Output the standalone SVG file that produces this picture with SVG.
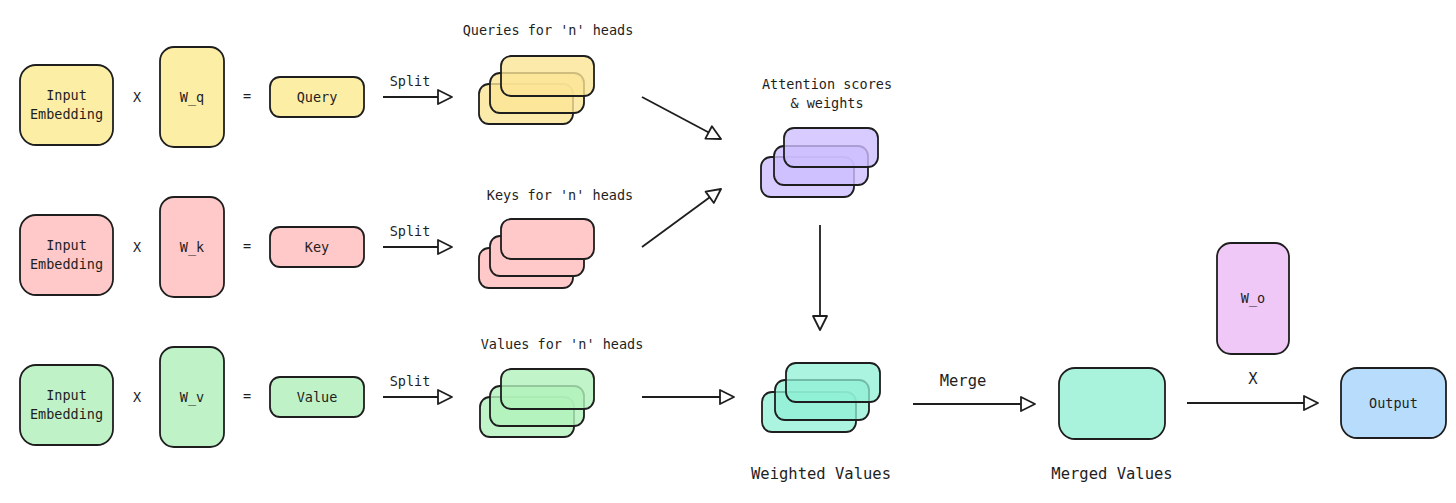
<svg xmlns="http://www.w3.org/2000/svg" width="1456" height="503" viewBox="0 0 1456 503">
<style>
  .box { stroke: #1e1e1e; stroke-width: 1.8; }
  .t { font-family: "DejaVu Sans Mono", "Liberation Mono", monospace; font-size: 13.5px; fill: #1e1e1e; text-anchor: middle; }
  .big { font-size: 15.5px; }
  .ln { stroke: #1e1e1e; stroke-width: 1.8; fill: none; }
  .y { fill: #fdeea6; }
  .ys { fill: #fbe596; fill-opacity: 0.8; }
  .p { fill: #ffc9c9; }
  .g { fill: #c0f2c8; }
  .gs { fill: #b2f2bb; fill-opacity: 0.8; }
  .pu { fill: #cdbeff; fill-opacity: 0.8; }
  .tl { fill: #8ff0d5; fill-opacity: 0.75; }
  .tm { fill: #a9f3dc; }
  .bl { fill: #b8ddfc; }
  .mg { fill: #f0c8f8; }
</style>
<defs>
  <marker id="ah" markerUnits="userSpaceOnUse" markerWidth="18" markerHeight="18" refX="15" refY="7" orient="auto" overflow="visible">
    <path d="M1,0 L15,7 L1,14 Z" fill="#ffffff" stroke="#1e1e1e" stroke-width="1.8" stroke-linejoin="round"/>
  </marker>
</defs>
<rect width="1456" height="503" fill="#ffffff"/>

<!-- Query row -->
<g id="input-q"><rect class="box y" x="20" y="65" width="93" height="80" rx="16"/><text class="t" x="66.5" y="100">Input</text><text class="t" x="66.5" y="119">Embedding</text></g>
<g id="x-q"><text class="t" x="137" y="102">X</text></g>
<g id="wq"><rect class="box y" x="160" y="47" width="64" height="100" rx="14"/><text class="t" x="192" y="102">W_q</text></g>
<g id="eq-q"><text class="t" x="247" y="101">=</text></g>
<g id="query"><rect class="box y" x="270" y="77" width="94" height="40" rx="10"/><text class="t" x="317" y="102">Query</text></g>
<g id="queries-stack">
  <text class="t" x="548" y="35">Queries for 'n' heads</text>
  <rect class="box ys" x="479" y="84" width="94" height="40" rx="10"/>
  <rect class="box ys" x="490" y="73" width="94" height="40" rx="10"/>
  <rect class="box ys" x="501" y="56" width="93" height="40" rx="10"/>
</g>

<!-- Key row -->
<g id="input-k"><rect class="box p" x="20" y="215" width="93" height="80" rx="16"/><text class="t" x="66.5" y="250">Input</text><text class="t" x="66.5" y="269">Embedding</text></g>
<g id="x-k"><text class="t" x="137" y="252">X</text></g>
<g id="wk"><rect class="box p" x="160" y="197" width="64" height="100" rx="14"/><text class="t" x="192" y="252">W_k</text></g>
<g id="eq-k"><text class="t" x="247" y="251">=</text></g>
<g id="key"><rect class="box p" x="270" y="227" width="94" height="40" rx="10"/><text class="t" x="317" y="252">Key</text></g>
<g id="keys-stack">
  <text class="t" x="560" y="200">Keys for 'n' heads</text>
  <rect class="box p" x="479" y="248" width="94" height="40" rx="10"/>
  <rect class="box p" x="490" y="236" width="94" height="40" rx="10"/>
  <rect class="box p" x="501" y="219" width="93" height="40" rx="10"/>
</g>

<!-- Value row -->
<g id="input-v"><rect class="box g" x="20" y="365" width="93" height="80" rx="16"/><text class="t" x="66.5" y="400">Input</text><text class="t" x="66.5" y="419">Embedding</text></g>
<g id="x-v"><text class="t" x="137" y="402">X</text></g>
<g id="wv"><rect class="box g" x="160" y="347" width="64" height="100" rx="14"/><text class="t" x="192" y="402">W_v</text></g>
<g id="eq-v"><text class="t" x="247" y="401">=</text></g>
<g id="value"><rect class="box g" x="270" y="377" width="94" height="40" rx="10"/><text class="t" x="317" y="402">Value</text></g>
<g id="values-stack">
  <text class="t" x="562" y="349">Values for 'n' heads</text>
  <rect class="box gs" x="480" y="397" width="94" height="40" rx="10"/>
  <rect class="box gs" x="490" y="386" width="94" height="40" rx="10"/>
  <rect class="box gs" x="501" y="369" width="93" height="40" rx="10"/>
</g>

<!-- Attention -->
<g id="attention-stack">
  <text class="t" x="827" y="89">Attention scores</text>
  <text class="t" x="827" y="108">&amp; weights</text>
  <rect class="box pu" x="761" y="157" width="93" height="40" rx="10"/>
  <rect class="box pu" x="774" y="146" width="94" height="39" rx="10"/>
  <rect class="box pu" x="784" y="128" width="94" height="39" rx="10"/>
</g>

<!-- Weighted values -->
<g id="weighted-stack">
  <rect class="box tl" x="762" y="392" width="94" height="40" rx="10"/>
  <rect class="box tl" x="775" y="380" width="94" height="40" rx="10"/>
  <rect class="box tl" x="786" y="363" width="94" height="39" rx="10"/>
  <text class="t big" x="821" y="479">Weighted Values</text>
</g>

<g id="merged"><rect class="box tm" x="1059" y="368" width="106" height="71" rx="16"/><text class="t big" x="1112" y="479">Merged Values</text></g>
<g id="wo"><rect class="box mg" x="1217" y="243" width="72" height="111" rx="14"/><text class="t" x="1253" y="303">W_o</text></g>
<g id="output"><rect class="box bl" x="1341" y="368" width="105" height="70" rx="16"/><text class="t" x="1393.5" y="408">Output</text></g>

<g id="connectors">
  <line class="ln" x1="383" y1="97" x2="452" y2="97" marker-end="url(#ah)"/>
  <line class="ln" x1="383" y1="247" x2="452" y2="247" marker-end="url(#ah)"/>
  <line class="ln" x1="383" y1="397" x2="452" y2="397" marker-end="url(#ah)"/>
  <text class="t" x="410" y="86">Split</text>
  <text class="t" x="410" y="236">Split</text>
  <text class="t" x="410" y="386">Split</text>
  <line class="ln" x1="642" y1="97" x2="721" y2="139" marker-end="url(#ah)"/>
  <line class="ln" x1="642" y1="247" x2="721" y2="189" marker-end="url(#ah)"/>
  <line class="ln" x1="820" y1="225" x2="820" y2="330" marker-end="url(#ah)"/>
  <line class="ln" x1="642" y1="397" x2="734" y2="397" marker-end="url(#ah)"/>
  <line class="ln" x1="913" y1="404" x2="1035" y2="404" marker-end="url(#ah)"/>
  <text class="t big" x="963" y="386">Merge</text>
  <line class="ln" x1="1187" y1="403" x2="1318" y2="403" marker-end="url(#ah)"/>
  <text class="t big" x="1253" y="384">X</text>
</g>
</svg>
